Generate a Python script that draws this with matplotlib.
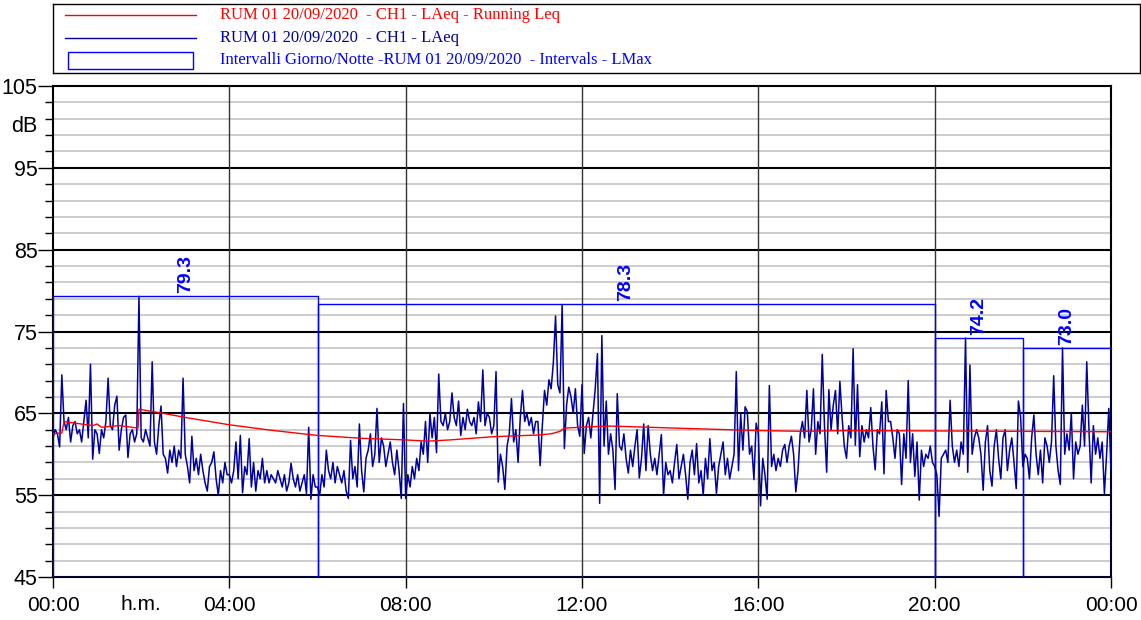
import numpy as np
import matplotlib.pyplot as plt
from matplotlib.patches import Rectangle

plt.rcParams['font.family'] = ['Liberation Sans', 'DejaVu Sans']

# LAeq, one value every 3 minutes (20 per hour)
h00 = [62.0, 63.0, 62.5, 60.9, 69.7, 64.0, 63.0, 64.5, 61.5, 63.5, 64.0, 62.5, 63.0, 61.5, 64.0, 66.6, 62.0, 71.0, 59.4, 63.0]
h01 = [62.5, 60.1, 63.0, 62.0, 64.0, 69.3, 63.5, 63.0, 66.0, 67.1, 60.5, 63.0, 64.5, 64.8, 59.6, 62.5, 63.0, 61.5, 62.5, 79.3]
h02 = [62.0, 61.5, 63.0, 62.0, 61.0, 71.3, 61.5, 60.0, 63.5, 65.9, 60.0, 59.5, 57.7, 60.5, 59.0, 61.0, 58.5, 60.5, 59.5, 69.3]
h03 = [60.0, 58.5, 56.5, 62.2, 58.0, 59.5, 57.5, 60.0, 58.0, 56.5, 55.5, 58.5, 59.0, 60.3, 57.0, 55.0, 58.0, 56.5, 59.0, 57.5]
h04 = [57.5, 56.5, 58.0, 61.5, 57.0, 62.3, 55.3, 58.5, 57.5, 61.9, 56.0, 59.0, 55.5, 58.0, 57.0, 59.5, 56.5, 58.0, 56.5, 57.5]
h05 = [57.0, 56.5, 58.0, 57.0, 56.0, 57.5, 55.5, 56.5, 58.9, 57.0, 56.0, 57.5, 55.5, 56.5, 57.5, 55.2, 63.3, 54.5, 57.5, 56.0]
h06 = [56.0, 55.0, 57.5, 56.0, 60.5, 58.0, 57.0, 59.0, 56.5, 58.5, 57.5, 56.5, 58.0, 55.5, 54.6, 61.7, 57.0, 58.5, 56.0, 63.7]
h07 = [58.0, 55.4, 59.5, 60.5, 62.5, 58.5, 60.0, 65.6, 59.0, 62.0, 61.0, 58.5, 60.0, 61.5, 59.0, 57.5, 60.5, 58.0, 54.6, 66.2]
h08 = [54.6, 57.5, 56.0, 58.5, 57.0, 59.5, 58.0, 61.5, 60.0, 64.0, 59.0, 65.0, 62.0, 64.5, 60.2, 69.8, 64.0, 63.5, 65.0, 63.0]
h09 = [64.0, 67.5, 64.5, 63.5, 66.5, 62.3, 64.5, 63.0, 65.5, 64.0, 63.5, 64.5, 62.5, 66.4, 64.0, 70.3, 63.5, 65.0, 64.5, 62.5]
h10 = [63.5, 70.1, 56.6, 60.0, 58.5, 55.7, 61.0, 62.5, 66.8, 61.5, 63.0, 59.0, 64.5, 67.8, 64.0, 65.0, 63.5, 64.5, 62.5, 64.0]
h11 = [64.0, 58.6, 63.5, 67.8, 66.0, 69.1, 68.0, 71.2, 76.9, 68.5, 67.5, 78.3, 60.7, 66.0, 68.2, 67.0, 65.0, 68.0, 63.5, 62.2]
h12 = [68.5, 60.1, 63.5, 64.5, 62.0, 65.0, 68.0, 72.3, 54.0, 74.5, 61.0, 66.5, 60.0, 62.5, 60.5, 55.7, 67.4, 61.0, 60.5, 62.5]
h13 = [59.5, 57.7, 60.5, 58.5, 61.0, 63.0, 57.1, 59.5, 63.7, 58.0, 63.5, 60.0, 58.0, 59.5, 57.5, 60.0, 62.4, 55.0, 59.0, 57.5]
h14 = [58.0, 56.5, 59.0, 61.2, 57.0, 58.5, 60.0, 57.5, 54.5, 59.0, 60.5, 57.5, 61.3, 56.5, 58.0, 55.0, 59.5, 57.0, 61.9, 58.0]
h15 = [59.0, 55.2, 58.5, 60.0, 61.5, 57.5, 59.5, 57.0, 58.5, 60.0, 70.1, 58.0, 64.9, 60.5, 65.8, 65.2, 60.0, 61.0, 56.9, 63.8]
h16 = [62.5, 53.7, 59.5, 57.5, 54.5, 68.4, 58.5, 60.0, 58.0, 59.5, 58.5, 60.5, 61.2, 59.0, 61.0, 62.2, 60.0, 55.4, 58.0, 62.5]
h17 = [64.0, 62.0, 67.8, 61.5, 63.0, 68.0, 60.0, 64.0, 62.5, 72.2, 63.5, 57.8, 67.9, 63.0, 66.0, 67.8, 62.5, 68.9, 64.5, 61.0]
h18 = [59.5, 63.5, 62.0, 72.9, 61.1, 68.5, 59.7, 63.5, 61.5, 63.0, 62.0, 65.7, 61.0, 58.1, 63.0, 62.5, 66.4, 57.6, 67.8, 64.0]
h19 = [64.0, 62.0, 59.5, 63.0, 62.5, 56.3, 62.5, 59.5, 69.0, 59.0, 62.5, 57.3, 61.5, 54.4, 60.5, 58.5, 60.0, 59.5, 61.0, 59.0]
h20 = [58.5, 57.5, 52.4, 59.5, 60.0, 60.5, 59.0, 66.6, 61.0, 59.0, 60.5, 58.5, 61.5, 60.0, 74.2, 57.8, 70.9, 60.0, 62.0, 63.0]
h21 = [62.0, 60.0, 55.6, 61.5, 63.5, 58.0, 56.1, 61.0, 63.0, 59.5, 57.0, 62.0, 63.0, 58.0, 60.5, 62.0, 59.0, 55.8, 66.5, 64.5]
h22 = [58.5, 60.0, 59.5, 57.0, 62.0, 64.8, 60.0, 57.5, 60.5, 56.5, 62.0, 61.0, 59.0, 61.5, 69.6, 61.0, 58.0, 56.3, 73.0, 60.0]
h23 = [62.5, 60.5, 65.0, 57.0, 61.5, 60.0, 61.0, 66.0, 61.0, 71.3, 63.0, 56.5, 63.5, 60.0, 62.0, 59.5, 61.5, 55.2, 60.0, 65.6, 58.0]

laeq = h00 + h01 + h02 + h03 + h04 + h05 + h06 + h07 + h08 + h09 + h10 + h11 \
    + h12 + h13 + h14 + h15 + h16 + h17 + h18 + h19 + h20 + h21 + h22 + h23
t_laeq = np.arange(len(laeq)) * 0.05

# running Leq
leq_t = [0, 0.2, 0.25, 0.5, 0.9, 1.0, 1.1, 1.5, 1.93, 1.95, 2.5, 3, 4, 5, 6, 7, 8, 8.5, 9, 10,
         11, 11.3, 11.5, 11.6, 12, 12.6, 13.5, 15, 16, 17, 18, 20, 22, 24]
leq_v = [62.5, 62.6, 64.0, 63.8, 63.5, 63.7, 63.3, 63.5, 63.2, 65.5, 65.0, 64.5, 63.6, 62.9, 62.3,
         61.95, 61.75, 61.6, 61.75, 62.15, 62.35, 62.5, 62.8, 63.2, 63.3, 63.45, 63.3, 63.05, 62.9,
         62.8, 62.9, 62.85, 62.8, 62.75]

# day/night intervals, LMax
int_start = [0, 6, 20, 22]
int_end = [6, 20, 22, 24]
int_lmax = [79.3, 78.3, 74.2, 73.0]

xticks = [0, 4, 8, 12, 16, 20, 24]
xlabels = ['00:00', '04:00', '08:00', '12:00', '16:00', '20:00', '00:00']
yticks = [45, 55, 65, 75, 85, 95, 105]

fig = plt.figure(figsize=(11.41, 6.20), dpi=100)
ax = fig.add_axes([53/1141, 43/620, 1058/1141, 491/620])

for y in np.arange(47, 105, 2):
    ax.axhline(y, color='#c8c8c8', lw=1.3, zorder=1)
for y in [55, 65, 75, 85, 95]:
    ax.axhline(y, color='black', lw=1.5, zorder=2)
for x in [4, 8, 12, 16, 20]:
    ax.axvline(x, color='#333333', lw=1.0, zorder=2)

for s, e, m in zip(int_start, int_end, int_lmax):
    ax.add_patch(Rectangle((s, 45), e - s, m - 45, fill=False, edgecolor='#0000ff', lw=1.0, zorder=3))
    ax.text((s + e) / 2, m + 0.4, f'{m:.1f}', rotation=90, ha='center', va='bottom',
            color='#0000ff', fontsize=14, fontweight='bold', zorder=5)

ax.plot(t_laeq, laeq, color='#0000a0', lw=1.1, zorder=4)
ax.plot(leq_t, leq_v, color='red', lw=1.0, zorder=4)

ax.set_xlim(0, 24)
ax.set_ylim(45, 105)
ax.set_xticks(xticks)
ax.set_xticklabels(xlabels, fontsize=15)
ax.set_yticks(yticks)
ax.set_yticklabels([str(v) for v in yticks], fontsize=15.5)
ax.set_yticks(np.arange(47, 105, 2), minor=True)
ax.tick_params(axis='y', which='major', length=11, width=1, pad=0)
ax.tick_params(axis='y', which='minor', length=6, width=1)
ax.tick_params(axis='x', which='major', length=8, width=1, pad=6)
for sp in ax.spines.values():
    sp.set_linewidth(1.5)
ax.text(-0.36, 100, 'dB', ha='right', va='center', fontsize=15.5)
ax.text(2, -0.057, 'h.m.', transform=ax.get_xaxis_transform(), ha='center', va='center', fontsize=15)

# legend box
lg = fig.add_axes([53/1141, (620 - 73)/620, 1087/1141, 69/620])
lg.set_xlim(53, 1140)
lg.set_ylim(73, 4)
lg.set_xticks([])
lg.set_yticks([])
for sp in lg.spines.values():
    sp.set_linewidth(1.0)
lg.plot([65, 196], [15, 15], color='red', lw=1.0)
lg.plot([65, 196], [38, 38], color='#0000a0', lw=1.0)
lg.add_patch(Rectangle((68, 52), 125, 17, fill=False, edgecolor='#0000ff', lw=1.0))
serif = ['Liberation Serif', 'DejaVu Serif']
lg.text(220, 15, 'RUM 01 20/09/2020  - CH1 - LAeq - Running Leq', color='red',
        va='center', fontsize=12, family=serif)
lg.text(220, 38, 'RUM 01 20/09/2020  - CH1 - LAeq', color='#0000a0',
        va='center', fontsize=12, family=serif)
lg.text(220, 60, 'Intervalli Giorno/Notte -RUM 01 20/09/2020  - Intervals - LMax', color='#0000ff',
        va='center', fontsize=12, family=serif)

fig.savefig('out.png', dpi=100)
